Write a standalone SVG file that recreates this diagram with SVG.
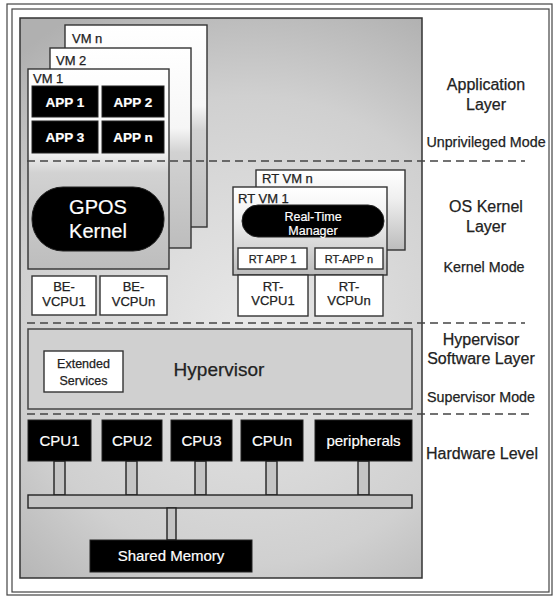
<svg xmlns="http://www.w3.org/2000/svg" width="553" height="597" viewBox="0 0 553 597">
<defs>
<radialGradient id="panel" gradientUnits="userSpaceOnUse" cx="250" cy="330" r="360">
<stop offset="0" stop-color="#e8e8e8"/>
<stop offset="0.65" stop-color="#d0d0d0"/>
<stop offset="1" stop-color="#b0b0b0"/>
</radialGradient>
<linearGradient id="vm" x1="0" y1="0" x2="0" y2="1">
<stop offset="0" stop-color="#ffffff"/>
<stop offset="0.4" stop-color="#f6f6f6"/>
<stop offset="0.52" stop-color="#d2d2d2"/>
<stop offset="1" stop-color="#bdbdbd"/>
</linearGradient>
<linearGradient id="rtvm" x1="0" y1="0" x2="0" y2="1">
<stop offset="0" stop-color="#ffffff"/>
<stop offset="0.35" stop-color="#f0f0f0"/>
<stop offset="1" stop-color="#bcbcbc"/>
</linearGradient>
<style>
.t{font-family:"Liberation Sans",Arial,sans-serif;fill:#222;stroke:#222;stroke-width:0.25}
.w{font-family:"Liberation Sans",Arial,sans-serif;fill:#fff;stroke:#fff;stroke-width:0.2}
.box{stroke:#333;stroke-width:1.4}
.blk{fill:#000;stroke:#222;stroke-width:1}
.wb{fill:#fff;stroke:#333;stroke-width:1.4}
.dash{stroke:#444;stroke-width:1.5;stroke-dasharray:8 5;fill:none}
.stub{fill:#c4c4c4;stroke:#222;stroke-width:1.4}
</style>
</defs>
<rect width="553" height="597" fill="#fff"/>
<rect x="7" y="4" width="545" height="591" fill="none" stroke="#444" stroke-width="1.2"/>
<rect x="12" y="9" width="537" height="583" fill="none" stroke="#444" stroke-width="1.2"/>
<rect id="panel-bg" x="20" y="18" width="402" height="560" fill="url(#panel)" stroke="#333" stroke-width="1.5"/>

<g id="vm-n"><rect class="box" x="65" y="25" width="142" height="202" fill="url(#vm)"/><text class="t" x="72" y="43" font-size="13">VM n</text></g>
<g id="vm-2"><rect class="box" x="50" y="48" width="141" height="200" fill="url(#vm)"/><text class="t" x="56" y="65" font-size="13">VM 2</text></g>
<g id="vm-1"><rect class="box" x="28" y="69" width="141" height="200" fill="url(#vm)"/><text class="t" x="33" y="83" font-size="13">VM 1</text></g>
<g id="app1"><rect class="blk" x="32" y="86" width="66" height="31"/><text class="w" x="65" y="106.5" font-size="13.5" font-weight="bold" text-anchor="middle">APP 1</text></g>
<g id="app2"><rect class="blk" x="102" y="86" width="62" height="31"/><text class="w" x="133" y="106.5" font-size="13.5" font-weight="bold" text-anchor="middle">APP 2</text></g>
<g id="app3"><rect class="blk" x="32" y="121" width="66" height="32"/><text class="w" x="65" y="142" font-size="13.5" font-weight="bold" text-anchor="middle">APP 3</text></g>
<g id="appn"><rect class="blk" x="102" y="121" width="62" height="32"/><text class="w" x="133" y="142" font-size="13.5" font-weight="bold" text-anchor="middle">APP n</text></g>
<g id="gpos"><rect class="blk" x="32" y="187" width="132" height="64" rx="31" ry="31"/><text class="w" x="98" y="214" font-size="20" text-anchor="middle">GPOS</text><text class="w" x="98" y="238" font-size="20" text-anchor="middle">Kernel</text></g>
<g id="be-vcpu1"><rect class="wb" x="32" y="276" width="64" height="39"/><text class="t" x="64" y="291" font-size="13" text-anchor="middle">BE-</text><text class="t" x="64" y="306" font-size="13" text-anchor="middle">VCPU1</text></g>
<g id="be-vcpun"><rect class="wb" x="100" y="276" width="67" height="39"/><text class="t" x="133.5" y="291" font-size="13" text-anchor="middle">BE-</text><text class="t" x="133.5" y="306" font-size="13" text-anchor="middle">VCPUn</text></g>

<g id="rt-vm-n"><rect class="box" x="256" y="170" width="149" height="80" fill="url(#rtvm)"/><text class="t" x="262" y="182.5" font-size="13">RT VM n</text></g>
<g id="rt-vm-1"><rect class="box" x="233" y="187" width="154" height="88" fill="url(#rtvm)"/><text class="t" x="238" y="202.5" font-size="13">RT VM 1</text></g>
<g id="rt-manager"><rect class="blk" x="242" y="205" width="142" height="32" rx="16" ry="16"/><text class="w" x="313" y="221" font-size="12.5" text-anchor="middle">Real-Time</text><text class="w" x="313" y="235" font-size="12.5" text-anchor="middle">Manager</text></g>
<g id="rt-app1"><rect class="wb" x="238" y="248" width="69" height="21"/><text class="t" x="272.5" y="263" font-size="11" text-anchor="middle">RT APP 1</text></g>
<g id="rt-appn"><rect class="wb" x="315" y="248" width="68" height="21"/><text class="t" x="349" y="263" font-size="11" text-anchor="middle">RT-APP n</text></g>
<g id="rt-vcpu1"><rect class="wb" x="238" y="275" width="70" height="41"/><text class="t" x="273" y="291" font-size="13" text-anchor="middle">RT-</text><text class="t" x="273" y="305" font-size="13" text-anchor="middle">VCPU1</text></g>
<g id="rt-vcpun"><rect class="wb" x="315" y="275" width="68" height="41"/><text class="t" x="349" y="291" font-size="13" text-anchor="middle">RT-</text><text class="t" x="349" y="305" font-size="13" text-anchor="middle">VCPUn</text></g>

<g id="hypervisor"><rect x="28" y="329" width="384" height="80" fill="#d0d0d0" stroke="#444" stroke-width="1.5"/><text class="t" x="219" y="376" font-size="19" text-anchor="middle">Hypervisor</text></g>
<g id="ext-services"><rect class="wb" x="44" y="351" width="79" height="41"/><text class="t" x="83.5" y="368" font-size="12.5" text-anchor="middle">Extended</text><text class="t" x="83.5" y="385" font-size="12.5" text-anchor="middle">Services</text></g>

<g id="connectors">
<rect class="stub" x="54" y="461" width="11" height="34"/>
<rect class="stub" x="126" y="461" width="11" height="34"/>
<rect class="stub" x="195" y="461" width="11" height="34"/>
<rect class="stub" x="266" y="461" width="11" height="34"/>
<rect class="stub" x="358" y="461" width="11" height="34"/>
<rect class="stub" x="28" y="495" width="384" height="13"/>
<rect class="stub" x="167" y="508" width="9" height="32"/>
</g>
<g id="cpu1"><rect class="blk" x="28" y="420" width="63" height="41"/><text class="w" x="59.5" y="446" font-size="15" text-anchor="middle">CPU1</text></g>
<g id="cpu2"><rect class="blk" x="102" y="420" width="60" height="41"/><text class="w" x="132" y="446" font-size="15" text-anchor="middle">CPU2</text></g>
<g id="cpu3"><rect class="blk" x="171" y="420" width="61" height="41"/><text class="w" x="201.5" y="446" font-size="15" text-anchor="middle">CPU3</text></g>
<g id="cpun"><rect class="blk" x="241" y="420" width="62" height="41"/><text class="w" x="272" y="446" font-size="15" text-anchor="middle">CPUn</text></g>
<g id="peripherals"><rect class="blk" x="315" y="420" width="97" height="41"/><text class="w" x="363.5" y="446" font-size="15" text-anchor="middle">peripherals</text></g>
<g id="shared-memory"><rect class="blk" x="90" y="540" width="162" height="32"/><text class="w" x="171" y="561" font-size="15" text-anchor="middle">Shared Memory</text></g>

<g id="layer-dividers">
<line class="dash" x1="27" y1="161" x2="525" y2="161"/>
<line class="dash" x1="27" y1="323" x2="525" y2="323"/>
<line class="dash" x1="27" y1="414" x2="530" y2="414"/>
</g>

<g id="layer-labels">
<text class="t" x="486" y="90" font-size="16" text-anchor="middle">Application</text>
<text class="t" x="486" y="110" font-size="16" text-anchor="middle">Layer</text>
<text class="t" x="486" y="147" font-size="14.3" text-anchor="middle">Unprivileged Mode</text>
<text class="t" x="486" y="212" font-size="16" text-anchor="middle">OS Kernel</text>
<text class="t" x="486" y="232" font-size="16" text-anchor="middle">Layer</text>
<text class="t" x="484" y="272" font-size="14.3" text-anchor="middle">Kernel Mode</text>
<text class="t" x="481" y="345" font-size="16" text-anchor="middle">Hypervisor</text>
<text class="t" x="481" y="364" font-size="16" text-anchor="middle">Software Layer</text>
<text class="t" x="481" y="402" font-size="14.3" text-anchor="middle">Supervisor Mode</text>
<text class="t" x="482" y="459" font-size="16" text-anchor="middle">Hardware Level</text>
</g>
</svg>
